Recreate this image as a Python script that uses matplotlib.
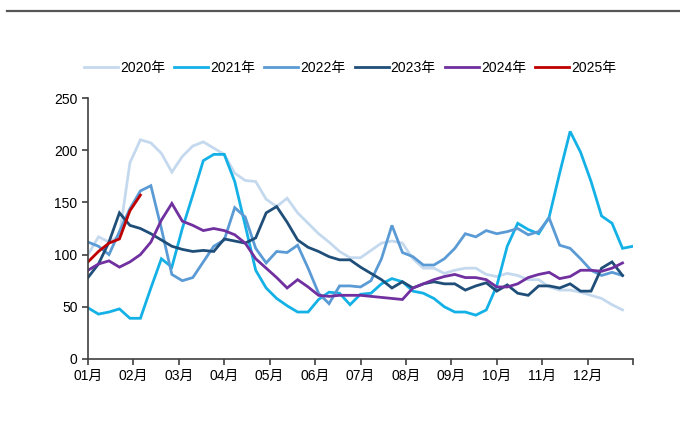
import matplotlib
matplotlib.use("Agg")
import matplotlib.pyplot as plt
from matplotlib.lines import Line2D
import numpy as np

plt.rcParams['font.family'] = ['Liberation Sans', 'Noto Sans CJK SC', 'DejaVu Sans']

month_labels = ["01月", "02月", "03月", "04月", "05月", "06月",
                "07月", "08月", "09月", "10月", "11月", "12月"]

y2020 = [100, 117, 112, 118, 188, 210, 207, 197, 179, 194, 204, 208, 202, 196,
         178, 171, 170, 153, 146, 154, 140, 130, 120, 112, 103, 97, 97, 104,
         111, 113, 111, 96, 87, 87, 82, 85, 87, 87, 81, 79, 82, 80, 76, 76,
         69, 66, 66, 64, 61, 58, 52, 47]
y2021 = [49, 43, 45, 48, 39, 39, 68, 96, 88, 125, 157, 190, 196, 196,
         170, 128, 85, 68, 58, 51, 45, 45, 57, 64, 63, 52, 62, 63, 72, 77,
         74, 65, 63, 58, 50, 45, 45, 42, 47, 70, 108, 130, 124, 120, 136,
         178, 218, 198, 170, 137, 130, 106, 108]
y2022 = [112, 108, 100, 122, 144, 161, 166, 125, 81, 75, 78, 93, 108, 114,
         145, 136, 106, 92, 103, 102, 109, 87, 63, 53, 70, 70, 69, 75, 96,
         128, 102, 98, 90, 90, 96, 106, 120, 117, 123, 120, 122, 125, 119,
         122, 135, 109, 106, 96, 85, 80, 83, 80]
y2023 = [78, 91, 112, 140, 128, 125, 120, 114, 108, 105, 103, 104, 103, 115,
         113, 111, 116, 140, 146, 131, 114, 107, 103, 98, 95, 95, 88, 82, 76,
         68, 74, 68, 72, 74, 72, 72, 66, 70, 73, 65, 71, 63, 61, 70, 70, 68,
         72, 65, 65, 87, 93, 80]
y2024 = [85, 91, 94, 88, 93, 100, 112, 133, 149, 132, 128, 123, 125, 123,
         119, 111, 96, 87, 78, 68, 76, 69, 61, 60, 61, 61, 61, 60, 59, 58,
         57, 68, 72, 76, 79, 81, 78, 78, 76, 69, 69, 72, 78, 81, 83, 77, 79,
         85, 85, 84, 87, 92]
y2025 = [93, 103, 111, 115, 142, 157]

series = [("2020年", y2020, "#c5d9ee"),
          ("2021年", y2021, "#14b1e7"),
          ("2022年", y2022, "#5b9bd5"),
          ("2023年", y2023, "#1f4e79"),
          ("2024年", y2024, "#7030a0"),
          ("2025年", y2025, "#c00000")]

fig = plt.figure(figsize=(6.8, 4.22), dpi=100)
ax = fig.add_axes([88/680, 1-359/422, (633-88)/680, (359-98)/422])

for name, vals, col in series:
    x = np.arange(len(vals)) * 12 / 52
    ax.plot(x, vals, color=col, lw=2, label=name, solid_joinstyle='miter')

ax.set_xlim(0, 12)
ax.set_ylim(0, 250)
ax.set_yticks([0, 50, 100, 150, 200, 250])
ax.set_xticks(np.arange(13))
ax.set_xticklabels(month_labels + [""])
for s in ["top", "right"]:
    ax.spines[s].set_visible(False)
for s in ["left", "bottom"]:
    ax.spines[s].set_color("#404040")
    ax.spines[s].set_linewidth(1.2)
ax.tick_params(axis="both", direction="out", length=4, width=1.2,
               color="#404040", labelsize=10, labelcolor="#000000")
ax.tick_params(axis="x", pad=3)

leg = fig.legend(loc="center", bbox_to_anchor=(350/680, 1-68/422), ncol=6,
                 frameon=False, fontsize=10, handlelength=2.45,
                 columnspacing=0.65, handletextpad=0.15)

fig.add_artist(Line2D([7/680, 1.0], [1-10.5/422, 1-10.5/422],
                      color="#555555", lw=1.6, transform=fig.transFigure))

fig.savefig("out.png", dpi=100)
